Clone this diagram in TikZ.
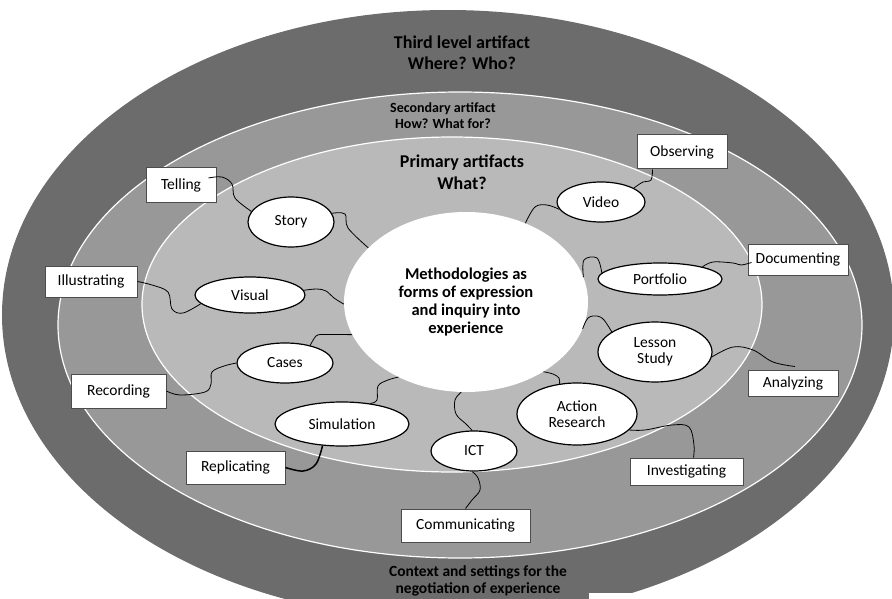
\documentclass[tikz,border=0pt]{standalone}
\usepackage{fontspec}
\setmainfont{Carlito}
\usetikzlibrary{shapes.geometric}
\definecolor{ringdark}{RGB}{108,108,108}
\definecolor{ringmid}{RGB}{152,152,152}
\definecolor{ringlight}{RGB}{185,185,185}
\begin{document}
\begin{tikzpicture}[x=1pt,y=-1pt,
  lbl/.style={rectangle, draw=black!70, fill=white, line width=1pt, inner sep=0pt,
              font=\fontsize{15.5}{17}\selectfont},
  meth/.style={ellipse, draw=black, fill=white, line width=1.2pt, inner sep=0pt,
               align=center, font=\fontsize{15.5}{16.5}\selectfont},
  link/.style={line width=0.8pt, black}
]
\useasboundingbox (0,0) rectangle (892,599);
\clip (0,0) rectangle (892,599);
% rings
\fill[ringdark] (448,315) ellipse [x radius=446pt, y radius=305pt];
\filldraw[fill=ringmid, draw=white, line width=1.2pt] (460,325) ellipse [x radius=402pt, y radius=233pt];
\filldraw[fill=ringlight, draw=white, line width=1.2pt] (452,304.5) ellipse [x radius=310pt, y radius=167.5pt];
\fill[white] (589,593) rectangle (892,600);

% ring texts
\node[align=center, font=\bfseries\fontsize{18}{21}\selectfont] (third) at (462,53) {Third level artifact\\Where? Who?};
\node[align=center, font=\bfseries\fontsize{14}{16}\selectfont] (second) at (443,116) {Secondary artifact\\How? What for?};
\node[align=center, font=\bfseries\fontsize{18}{22}\selectfont] (primary) at (462,172) {Primary artifacts\\What?};
\node[align=center, font=\bfseries\fontsize{15.5}{17}\selectfont] (context) at (478,581) {Context and settings for the\\negotiation of experience};

% core
\node[ellipse, fill=white, minimum width=244pt, minimum height=180pt, inner sep=0pt,
      align=center, font=\bfseries\fontsize{16.5}{18}\selectfont] (core) at (466,302)
      {Methodologies as\\forms of expression\\and inquiry into\\experience};

% methods (ellipses)
\node[meth, minimum width=86pt, minimum height=50pt] (story) at (291,222) {Story};
\node[meth, minimum width=110pt, minimum height=36pt] (visual) at (250,295) {Visual};
\node[meth, minimum width=96pt, minimum height=40pt] (cases) at (285,363) {Cases};
\node[meth, minimum width=134pt, minimum height=44pt] (simulation) at (342,424) {Simulation};
\node[meth, minimum width=86pt, minimum height=40pt] (ict) at (474,451) {ICT};
\node[meth, minimum width=120pt, minimum height=62pt] (action) at (577,414) {Action\\Research};
\node[meth, minimum width=114pt, minimum height=60pt] (lesson) at (655,352) {Lesson\\Study};
\node[meth, minimum width=124pt, minimum height=32pt] (portfolio) at (660,279) {Portfolio};
\node[meth, minimum width=88pt, minimum height=40pt] (video) at (601,202) {Video};

% activity boxes
\node[lbl, minimum width=70pt, minimum height=34pt] (telling) at (181,185) {Telling};
\node[lbl, minimum width=92pt, minimum height=31pt] (illustrating) at (91,281.5) {Illustrating};
\node[lbl, minimum width=95pt, minimum height=34pt] (recording) at (118.5,391) {Recording};
\node[lbl, minimum width=99pt, minimum height=33pt] (replicating) at (235.5,467.5) {Replicating};
\node[lbl, minimum width=129pt, minimum height=33pt] (communicating) at (465.5,525.5) {Communicating};
\node[lbl, minimum width=113pt, minimum height=27pt] (investigating) at (686.5,471.5) {Investigating};
\node[lbl, minimum width=90pt, minimum height=26pt] (analyzing) at (793,383) {Analyzing};
\node[lbl, minimum width=100pt, minimum height=31pt] (documenting) at (798,259.5) {Documenting};
\node[lbl, minimum width=90pt, minimum height=34pt] (observing) at (682,152) {Observing};

% connectors
\draw[link] plot[smooth, tension=0.6] coordinates {([xshift=-8pt,yshift=7pt]telling.east) (222,177) (232,184) (235,198) (story.165)};
\draw[link] plot[smooth, tension=0.6] coordinates {(story.12) (345,214) (348,228) (core.151)};
\draw[link] plot[smooth, tension=0.6] coordinates {(illustrating.east) (152,285) (168,292) (172,309) (183,313) (visual.190)};
\draw[link] plot[smooth, tension=0.6] coordinates {(visual.5) (317,289) (326,291) (334,298) (core.181)};
\draw[link] plot[smooth, tension=0.5] coordinates {(cases.35) (316,336) (323,334.5) (core.196)};
\draw[link] plot[smooth, tension=0.6] coordinates {(recording.east) (180,395) (205,392) (211,384) (212,372) (224,366) (cases.180)};
\draw[link] plot[smooth, tension=0.6] coordinates {(simulation.36) (377,400) (378,386) (388,380) (core.228)};
\draw[line width=1.5pt] plot[smooth, tension=0.6] coordinates {(replicating.east) (303,471) (316,464) (simulation.228)};
\draw[link] plot[smooth, tension=0.6] coordinates {(core.267) (455,400) (456,414) (466,424) (ict.95)};
\draw[link] plot[smooth, tension=0.6] coordinates {(ict.265) (478,478) (480,490) (472,500) (communicating.north)};
\draw[link] plot[smooth, tension=0.6] coordinates {(core.318) (553,374) (559,378) (action.120)};
\draw[link] plot[smooth, tension=0.6] coordinates {(action.343) (645,430) (672,425) (689,427) (694,445) ([xshift=7pt]investigating.north)};
\draw[link] plot[smooth, tension=0.6] coordinates {(core.347) (588,318) (597,316) (604,320) (lesson.155)};
\draw[link] plot[smooth, tension=0.6] coordinates {(lesson.355) (733,347) (753,350) (773,362) ([xshift=2pt,yshift=3pt]analyzing.north)};
\draw[link] plot[smooth, tension=0.6] coordinates {(core.12) (584,260) (597,258) (portfolio.174)};
\draw[link] plot[smooth, tension=0.6] coordinates {(portfolio.16) (713,262) (733,263) (741,265) ([xshift=4pt,yshift=-3pt]documenting.west)};
\draw[link] plot[smooth, tension=0.6] coordinates {(core.53) (535,207) (547,205) (video.190)};
\draw[link] plot[smooth, tension=0.6] coordinates {(video.23) (643,182) (651,180) ([xshift=16pt]observing.south west)};
\end{tikzpicture}
\end{document}
